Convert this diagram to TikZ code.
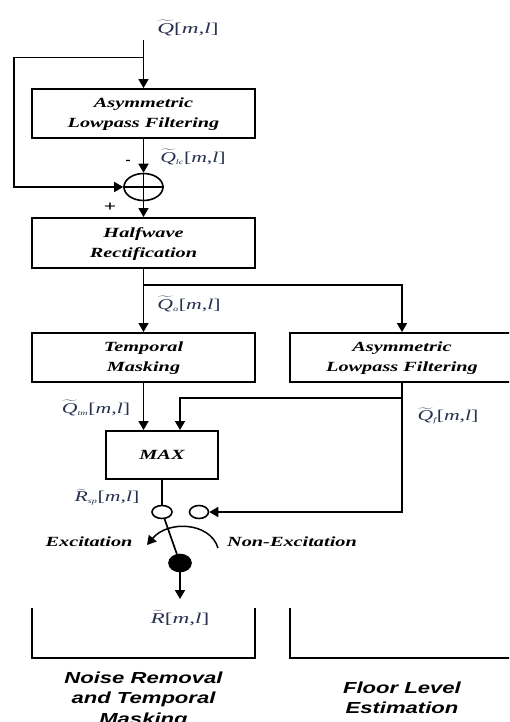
\documentclass[tikz,border=0pt]{standalone}
\usepackage{fontspec}
\usepackage{graphicx}
\setmainfont{Liberation Serif}
\newfontfamily\capfont{Liberation Sans}
\usetikzlibrary{arrows.meta,shapes.geometric}
\definecolor{lblc}{RGB}{40,50,80}
\newcommand{\hs}[1]{\scalebox{1.45}[1]{#1}}
\newcommand{\hl}[1]{\scalebox{1.55}[1]{#1}}
\newcommand{\tq}[1]{\ensuremath{\widetilde{\mbox{\itshape #1}}}}
\newcommand{\subs}[1]{\ensuremath{_{\mbox{\itshape\fontsize{7}{7}\selectfont #1}}}}
\newcommand{\ml}{[{\itshape m},{\itshape l}]}
\begin{document}
\begin{tikzpicture}[x=1pt,y=-1pt,
  line width=1.7pt,
  arr/.style={-{Triangle[width=10pt,length=9pt]}},
  box/.style={draw, rectangle, inner sep=0pt, line width=1.9pt,
    font=\fontsize{14}{20}\selectfont\bfseries\itshape, align=center},
  lbl/.style={inner sep=0pt, text=lblc, font=\fontsize{15}{15}\selectfont},
  sw/.style={draw, ellipse, inner sep=0pt, line width=1.6pt},
  captxt/.style={inner sep=0pt, font=\fontsize{16}{20.5}\selectfont\capfont\bfseries\itshape, align=center}]
\useasboundingbox (0,0) rectangle (509,722);
\clip (0,0) rectangle (509,722);

% boxes
\node[box, minimum width=223pt, minimum height=49pt] (b1) at (143.5,113.5)
  {\hs{\begin{tabular}{@{}c@{}}Asymmetric\\Lowpass Filtering\end{tabular}}};
\node[sw, minimum width=39pt, minimum height=27pt] (sum) at (143.5,187) {};
\node[box, minimum width=223pt, minimum height=50pt] (b2) at (143.5,243)
  {\hs{\begin{tabular}{@{}c@{}}Halfwave\\Rectification\end{tabular}}};
\node[box, minimum width=223pt, minimum height=49pt] (b3) at (143.5,357.5)
  {\hs{\begin{tabular}{@{}c@{}}Temporal\\Masking\end{tabular}}};
\node[box, minimum width=224pt, minimum height=49pt] (b4) at (402,357.5)
  {\hs{\begin{tabular}{@{}c@{}}Asymmetric\\Lowpass Filtering\end{tabular}}};
\node[box, minimum width=112pt, minimum height=48pt] (max) at (162,455)
  {\hs{MAX}};
\node[sw, minimum width=20pt, minimum height=13pt] (s1) at (162,512) {};
\node[sw, minimum width=19pt, minimum height=13pt] (s2) at (199,512) {};
\node[sw, fill=black, minimum width=22pt, minimum height=17pt] (fc) at (180,563) {};

% coordinates
\coordinate (in) at (143.5,40);
\coordinate (j1) at (143.5,57.5);
\coordinate (fb1) at (14,57.5);
\coordinate (fb2) at (14,187);
\coordinate (j2) at (143.5,285);
\coordinate (j3) at (402,398);
\coordinate (mx2) at (180,398);
\coordinate (ar1) at (218,548);
\coordinate (ar2) at (147,545);
\coordinate (out) at (180,599);

% connectors
\draw[arr] (in) -- (b1.north);
\draw[arr] (j1) -- (fb1) -- (fb2) -- (sum.west);
\draw[arr] (b1.south) -- (sum.north);
\draw (sum.west) -- (sum.east);
\draw (sum.north) -- (sum.south);
\draw[arr] (sum.south) -- (b2.north);
\draw[arr] (b2.south) -- (b3.north);
\draw[arr] (j2) -| (b4.north);
\draw[arr] (b3.south) -- (b3.south |- max.north);
\draw[arr] (b4.south) -- (j3) -- (mx2) -- (mx2 |- max.north);
\draw[arr] (j3) |- (s2.east);
\draw (max.south) -- (s1.north);
\draw (s1.290) -- (fc.center);
\draw[arr, line width=1.5pt] (ar1) .. controls (210,522) and (168,520) .. (ar2);
\draw[arr] (fc.center) -- (out);

% brackets
\draw[line width=1.9pt] (32,608) -- (32,658) -- (255,658) -- (255,608);
\draw[line width=1.9pt] (290,608) -- (290,658) -- (512,658);

% labels
\node[lbl] (lq) at (188,28) {\hl{\tq{Q}\ml}};
\node[lbl] (llc) at (193,157) {\hs{\tq{Q}\subs{lc}\ml}};
\node[inner sep=0pt, font=\fontsize{15}{15}\selectfont\bfseries] (lminus) at (128,162) {-};
\node[inner sep=0pt, font=\fontsize{15}{15}\selectfont\bfseries] (lplus) at (110,207) {\hs{+}};
\node[lbl] (lo) at (189,304) {\hs{\tq{Q}\subs{o}\ml}};
\node[lbl] (ltm) at (96,408) {\hs{\tq{Q}\subs{tm}\ml}};
\node[lbl] (lf) at (448,416) {\hs{\tq{Q}\subs{f}\ml}};
\node[lbl] (lsp) at (107,497) {\hs{\tq{R}\subs{sp}\ml}};
\node[lbl] (lr) at (180,618) {\hl{\tq{R}\ml}};
\node[inner sep=0pt, font=\fontsize{14}{14}\selectfont\bfseries\itshape] (lex) at (89,542) {\hs{Excitation}};
\node[inner sep=0pt, font=\fontsize{14}{14}\selectfont\bfseries\itshape] (lnex) at (292,542) {\hs{Non-Excitation}};

% captions
\node[captxt, anchor=north] (c1) at (143.5,668) {\scalebox{1.38}[1]{\begin{tabular}{@{}c@{}}Noise Removal\\and Temporal\\Masking\end{tabular}}};
\node[captxt, anchor=north] (c2) at (402,678) {\scalebox{1.38}[1]{\begin{tabular}{@{}c@{}}Floor Level\\Estimation\end{tabular}}};
\end{tikzpicture}
\end{document}
